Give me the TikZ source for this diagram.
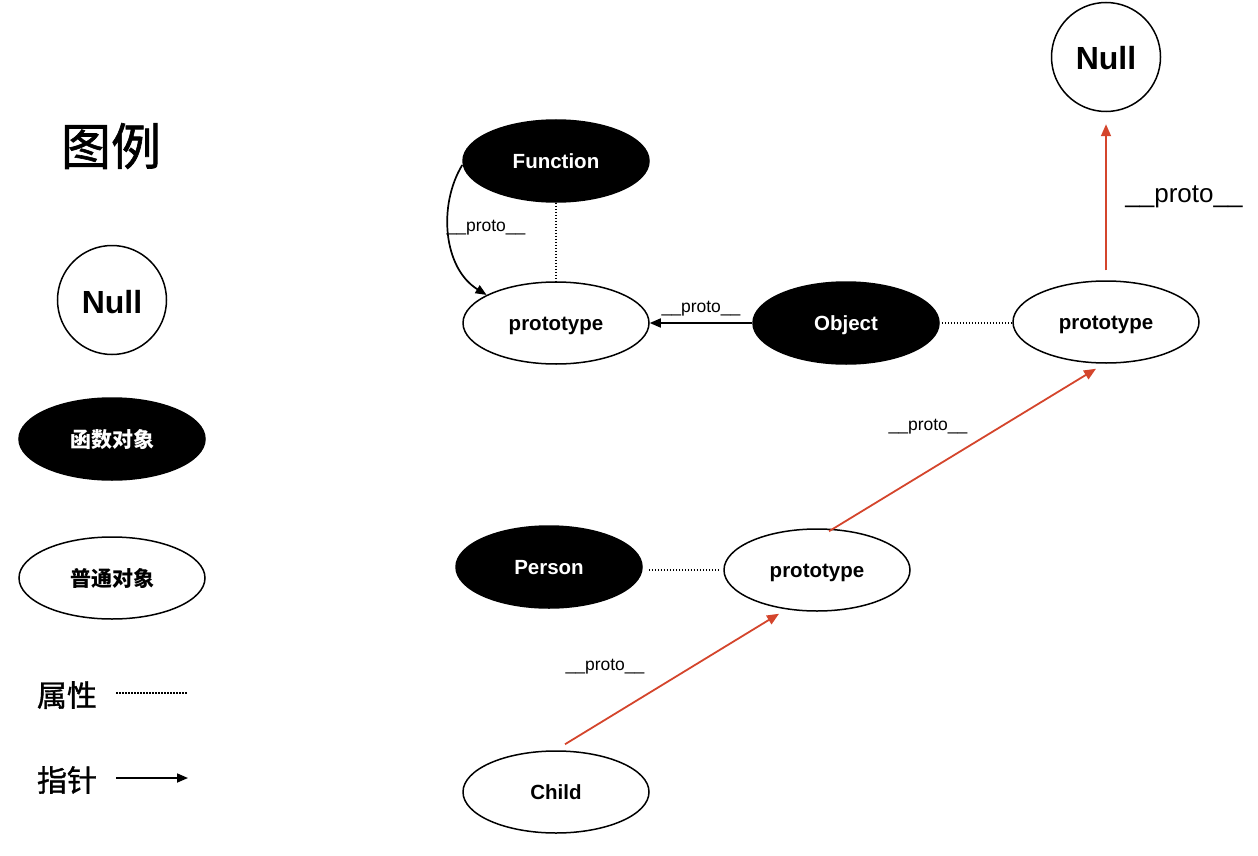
\documentclass[tikz,border=0pt]{standalone}
\usepackage{fontspec}
\setmainfont{Liberation Sans}
\newfontfamily\cjk{Noto Sans CJK SC}
\newfontfamily\cjkm[FakeBold=1.2]{Noto Sans CJK SC}
\usetikzlibrary{shapes.geometric,arrows.meta,calc}
\definecolor{myred}{RGB}{212,69,44}
\begin{document}
\begin{tikzpicture}[x=1pt,y=-1pt,
 fobj/.style={ellipse,fill=black,draw=black,line width=1.5pt,minimum width=186pt,minimum height=82pt,inner sep=0pt,text=white,text height=14pt,text depth=0pt,font=\bfseries\fontsize{20.5}{24}\selectfont},
 pobj/.style={ellipse,fill=white,draw=black,line width=1.5pt,minimum width=186pt,minimum height=82pt,inner sep=0pt,text height=14pt,text depth=0pt,font=\bfseries\fontsize{20.5}{24}\selectfont},
 nullc/.style={circle,draw=black,line width=1.5pt,minimum size=109pt,inner sep=0pt,text height=26pt,text depth=0pt,font=\bfseries\fontsize{32}{36}\selectfont},
 attr/.style={line width=1.8pt,dash pattern=on 1.5pt off 1.5pt},
 ptr/.style={line width=1.7pt,-{Triangle[length=11pt,width=9pt]}},
 redptr/.style={draw=myred,line width=1.8pt,-{Triangle[length=12pt,width=10pt]},color=myred},
 lbl/.style={font=\fontsize{17.5}{20}\selectfont,inner sep=0pt},
 cjklbl/.style={font=\cjk\bfseries\fontsize{21}{24}\selectfont,text height=16pt,text depth=0pt},
]
\useasboundingbox (0,0) rectangle (1258,856);
% legend
\node[font=\cjkm\fontsize{50}{56}\selectfont] (title) at (111,146) {图例};
\node[nullc] (lnull) at (112,300) {Null};
\node[fobj,cjklbl] (lfn) at (112,439) {函数对象};
\node[pobj,cjklbl] (lobj) at (112,578) {普通对象};
\node[font=\cjkm\fontsize{30}{34}\selectfont] (lattr) at (67,695) {属性};
\node[font=\cjkm\fontsize{30}{34}\selectfont] (lptr) at (67,780) {指针};
\coordinate (la1) at (116,693); \coordinate (la2) at (188,693);
\coordinate (lp1) at (116,778); \coordinate (lp2) at (188,778);
\draw[attr] (la1) -- (la2);
\draw[ptr] (lp1) -- (lp2);
% main nodes
\node[fobj] (fn) at (556,161) {Function};
\node[pobj] (protoL) at (556,323) {prototype};
\node[fobj] (obj) at (846,323) {Object};
\node[pobj] (protoR) at (1106,322) {prototype};
\node[nullc] (null) at (1106,57) {Null};
\node[fobj] (person) at (549,567) {Person};
\node[pobj] (protoM) at (817,570) {prototype};
\node[pobj] (child) at (556,792) {Child};
% property lines
\draw[attr] (fn.south) -- (protoL.north);
\draw[attr] ($(obj.east)+(2,0)$) -- ($(protoR.west)+(-1,1)$);
\draw[attr] ($(person.east)+(6,3)$) -- ($(protoM.west)+(-4,0)$);
% pointers
\draw[ptr] ($(fn.west)+(0,4)$) .. controls (438,205) and (443,268) .. (protoL.158);
\node[lbl] (l1) at (486,228) {\_\_proto\_\_};
\draw[ptr] (obj.west) -- (protoL.east);
\node[lbl] (l2) at (701,309) {\_\_proto\_\_};
\draw[redptr] ($(protoR.north)+(0,-10)$) -- ($(null.south)+(0,12)$);
\node[font=\fontsize{26}{30}\selectfont,inner sep=0pt] (l3) at (1184,197) {\_\_proto\_\_};
\draw[redptr] ($(protoM.north)+(12,3)$) -- ($(protoR.south)+(-10,5)$);
\node[lbl] (l4) at (928,427) {\_\_proto\_\_};
\draw[redptr] ($(child.north)+(9,-6)$) -- ($(protoM.south)+(-38,2)$);
\node[lbl] (l5) at (605,667) {\_\_proto\_\_};
\end{tikzpicture}
\end{document}
